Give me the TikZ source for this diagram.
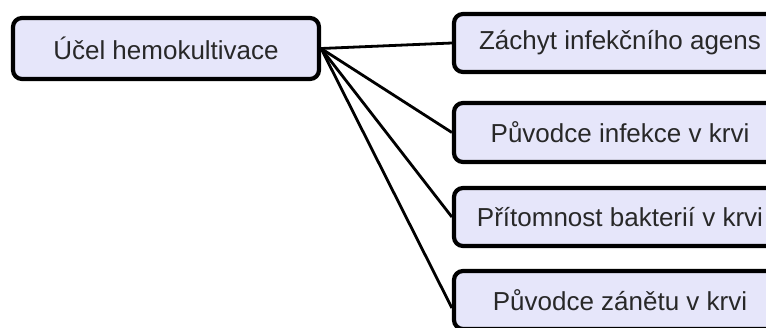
\documentclass[tikz,border=0pt]{standalone}
\usepackage{fontspec}
\setmainfont{Liberation Sans}
\begin{document}
\begin{tikzpicture}[x=1pt,y=-1pt,
  box/.style={draw=black, line width=4.2pt, rounded corners=9pt,
    fill=boxfill, text=textgray, inner sep=0pt,
    font=\fontsize{26}{30}\selectfont},
  link/.style={draw=black, line width=2.8pt}]
\definecolor{boxfill}{RGB}{230,230,250}
\definecolor{textgray}{RGB}{40,40,40}
\useasboundingbox (0,0) rectangle (766,327);
\begin{scope}
\clip (0,0) rectangle (766,327);
% root box
\node[box, minimum width=306pt, minimum height=61pt] (root) at (166,48.5) {Účel hemokultivace};
% purpose boxes
\node[box, minimum width=332pt, minimum height=58pt] (a) at (620,43) {Záchyt infekčního agens};
\node[box, minimum width=332pt, minimum height=59pt] (b) at (620,132.5) {Původce infekce v krvi};
\node[box, minimum width=332pt, minimum height=58pt] (c) at (620,217) {Přítomnost bakterií v krvi};
\node[box, minimum width=332pt, minimum height=58pt] (d) at (620,300) {Původce zánětu v krvi};
% connectors
\draw[link] (root.east) -- (a.west);
\draw[link] (root.east) -- (b.west);
\draw[link] (root.east) -- (c.west);
\draw[link] (root.east) -- ([yshift=-8pt]d.west);
\end{scope}
\end{tikzpicture}
\end{document}
